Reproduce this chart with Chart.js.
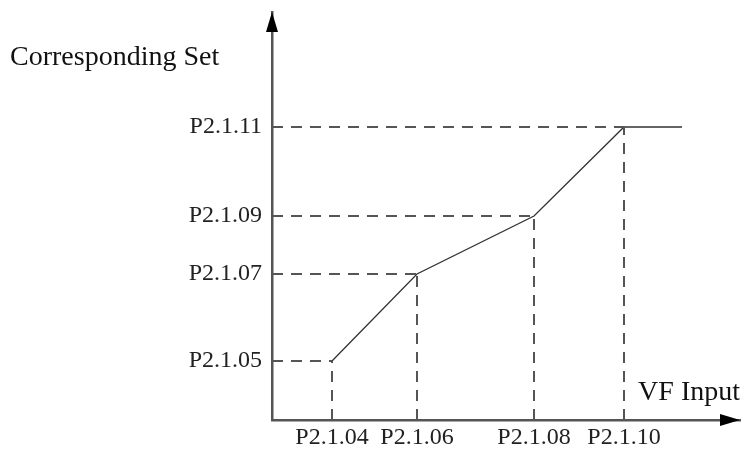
<!DOCTYPE html>
<html>
<head>
<meta charset="utf-8">
<script src="https://cdn.jsdelivr.net/npm/chart.js@4/dist/chart.umd.min.js"></script>
<style>
  html, body { margin: 0; padding: 0; background: #fff; }
  #wrap { width: 741px; height: 450px; }
</style>
</head>
<body>
<div id="wrap"><canvas id="chart"></canvas></div>
<script>
// breakpoints of the curve (VF input -> corresponding set), arbitrary units
const xValues = [60, 145, 262, 352];
const yValues = [59, 146, 204, 293];
const xLabels = ['P2.1.04', 'P2.1.06', 'P2.1.08', 'P2.1.10'];
const yLabels = ['P2.1.05', 'P2.1.07', 'P2.1.09', 'P2.1.11'];
const xEnd = 410; // flat part after the last breakpoint

const serif = "'Liberation Serif', 'Times New Roman', serif";

const curve = xValues.map((x, i) => ({ x, y: yValues[i] }));
curve.push({ x: xEnd, y: yValues[yValues.length - 1] });

// dashed guides: horizontal from y-axis, vertical from x-axis
const hGuides = [];
const vGuides = [];
xValues.forEach((x, i) => {
  hGuides.push({ x: 0, y: yValues[i] }, { x, y: yValues[i] }, { x, y: null });
  vGuides.push({ x, y: 0 }, { x, y: yValues[i] }, { x, y: null });
});

const arrows = {
  id: 'arrows',
  afterDraw(chart) {
    const { ctx, chartArea: a } = chart;
    ctx.save();
    ctx.fillStyle = '#000';
    // up arrow on y axis
    ctx.beginPath();
    ctx.moveTo(a.left, a.top);
    ctx.lineTo(a.left - 6, a.top + 20);
    ctx.lineTo(a.left + 6, a.top + 20);
    ctx.closePath();
    ctx.fill();
    // right arrow on x axis
    ctx.beginPath();
    ctx.moveTo(a.right, a.bottom);
    ctx.lineTo(a.right - 20, a.bottom - 6);
    ctx.lineTo(a.right - 20, a.bottom + 6);
    ctx.closePath();
    ctx.fill();
    // axis names
    ctx.fillStyle = '#111';
    ctx.font = '28px ' + serif;
    ctx.textBaseline = 'middle';
    ctx.textAlign = 'left';
    ctx.fillText('Corresponding Set', 10, 58);
    ctx.textAlign = 'right';
    ctx.fillText('VF Input', 740, 393);
    ctx.restore();
  }
};

new Chart(document.getElementById('chart'), {
  type: 'line',
  data: {
    datasets: [
      {
        data: hGuides,
        borderColor: '#555',
        borderWidth: 2,
        borderDash: [11, 8],
        pointRadius: 0,
        spanGaps: false
      },
      {
        data: vGuides,
        borderColor: '#555',
        borderWidth: 2,
        borderDash: [11, 8],
        pointRadius: 0,
        spanGaps: false
      },
      {
        data: curve,
        borderColor: '#333',
        borderWidth: 1.3,
        pointRadius: 0,
        tension: 0
      }
    ]
  },
  options: {
    responsive: true,
    maintainAspectRatio: false,
    animation: false,
    layout: { padding: { top: 12, right: 1, left: 0, bottom: 0 } },
    plugins: { legend: { display: false }, tooltip: { enabled: false } },
    scales: {
      x: {
        type: 'linear',
        min: 0,
        max: 468,
        grid: { display: false, drawTicks: false },
        border: { display: true, color: '#555', width: 2.5 },
        afterBuildTicks: (s) => { s.ticks = xValues.map((v) => ({ value: v })); },
        afterFit: (s) => { s.height = 30; s.paddingLeft = 0; s.paddingRight = 0; },
        ticks: {
          autoSkip: false,
          maxRotation: 0,
          padding: 3,
          color: '#222',
          font: { family: serif, size: 24 },
          callback: (v) => xLabels[xValues.indexOf(v)]
        }
      },
      y: {
        type: 'linear',
        min: 0,
        max: 408,
        grid: { display: false, drawTicks: false },
        border: { display: true, color: '#555', width: 2.5 },
        afterBuildTicks: (s) => { s.ticks = yValues.map((v) => ({ value: v })); },
        afterFit: (s) => { s.width = 272; s.paddingTop = 0; s.paddingBottom = 0; },
        ticks: {
          autoSkip: false,
          padding: 10,
          color: '#222',
          font: { family: serif, size: 24 },
          callback: (v) => yLabels[yValues.indexOf(v)]
        }
      }
    }
  },
  plugins: [arrows]
});
</script>
</body>
</html>
